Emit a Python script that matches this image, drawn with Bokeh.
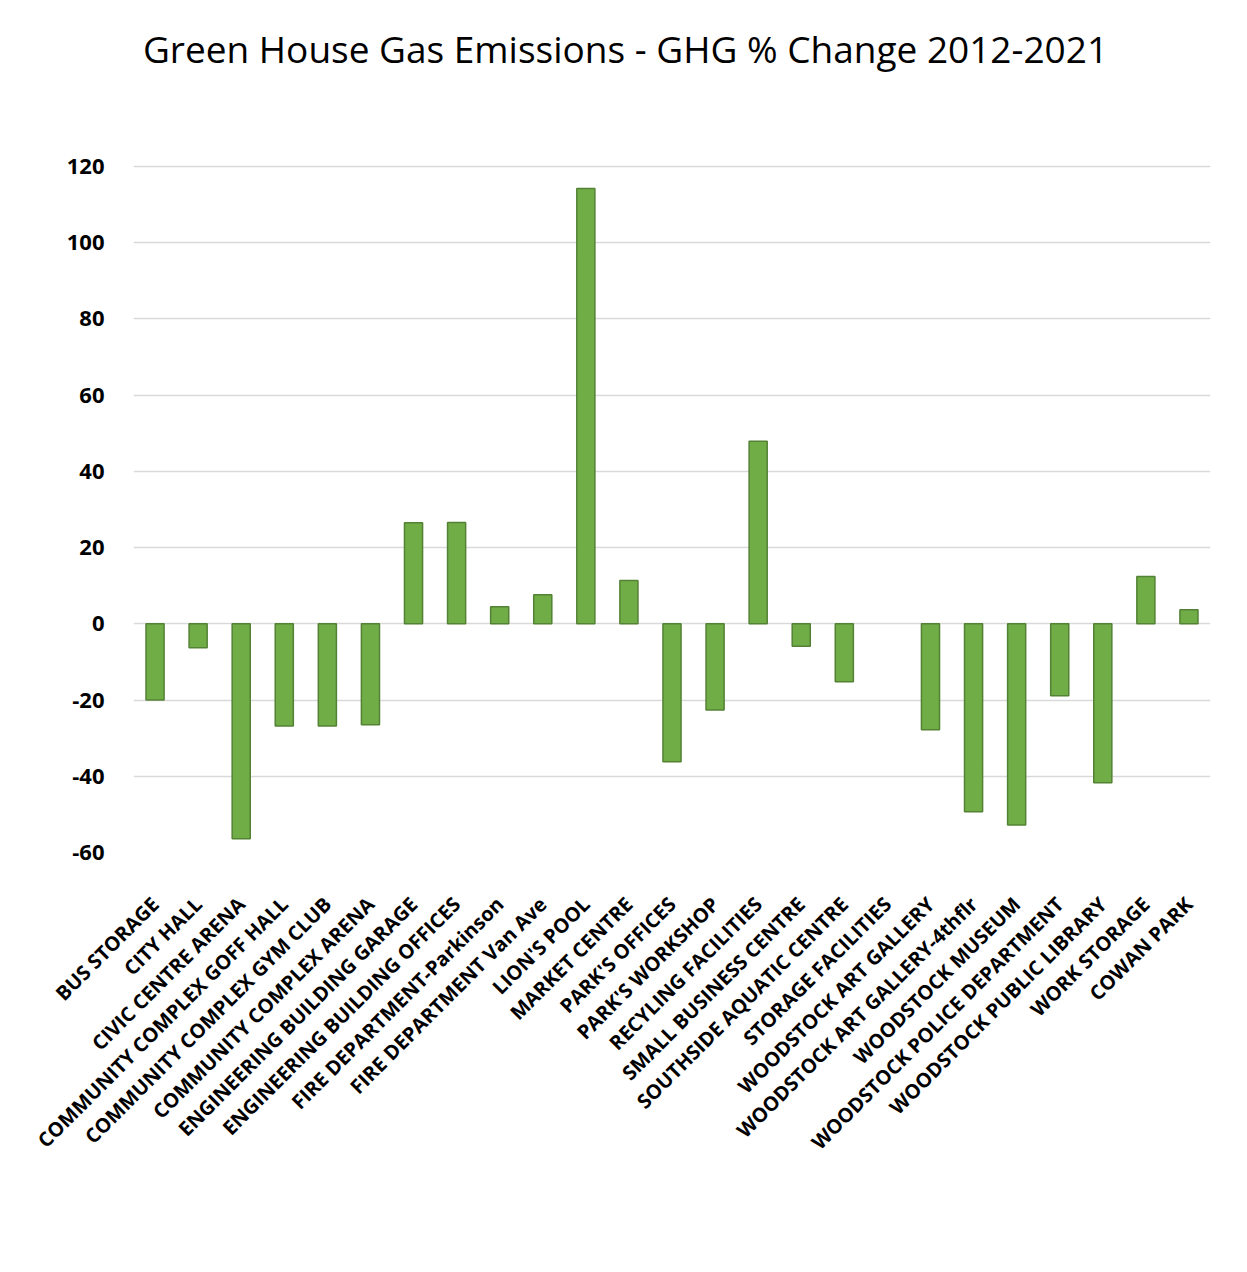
import math
from bokeh.plotting import figure
from bokeh.models import ColumnDataSource, Label, FactorRange, Range1d, FixedTicker
from bokeh.embed import file_html
from bokeh.resources import INLINE

categories = [
    "BUS STORAGE", "CITY HALL", "CIVIC CENTRE ARENA", "COMMUNITY COMPLEX GOFF HALL",
    "COMMUNITY COMPLEX GYM CLUB", "COMMUNITY COMPLEX ARENA", "ENGINEERING BUILDING GARAGE",
    "ENGINEERING BUILDING OFFICES", "FIRE DEPARTMENT-Parkinson", "FIRE DEPARTMENT Van Ave",
    "LION'S POOL", "MARKET CENTRE", "PARK'S OFFICES", "PARK'S WORKSHOP",
    "RECYLING FACILITIES", "SMALL BUSINESS CENTRE", "SOUTHSIDE AQUATIC CENTRE",
    "STORAGE FACILITIES", "WOODSTOCK ART GALLERY", "WOODSTOCK ART GALLERY-4thflr",
    "WOODSTOCK MUSEUM", "WOODSTOCK POLICE DEPARTMENT", "WOODSTOCK PUBLIC LIBRARY",
    "WORK STORAGE", "COWAN PARK",
]
# STORAGE FACILITIES has no bar in the chart (no value)
ghg_change = [
    -20.0, -6.3, -56.4, -26.8, -26.8, -26.5, 26.5, 26.6, 4.5, 7.6,
    114.2, 11.4, -36.2, -22.6, 47.9, -5.9, -15.2, float("nan"), -27.8, -49.3,
    -52.8, -18.9, -41.7, 12.4, 3.7,
]
y_ticks = [-60, -40, -20, 0, 20, 40, 60, 80, 100, 120]
title_text = "Green House Gas Emissions - GHG % Change 2012-2021"

# layout (pixels)
W, H = 1231, 1256
FRAME_L, FRAME_R, GRID_TOP, FRAME_B = 133, 1210, 166, 852
Y_MIN, Y_MAX = -60, 120
px_per_unit = (FRAME_B - GRID_TOP) / (Y_MAX - Y_MIN)
y_top = Y_MAX + GRID_TOP / px_per_unit  # frame extends to the top of the canvas
cat_w = (FRAME_R - FRAME_L) / len(categories)

source = ColumnDataSource(data=dict(cat=categories, val=ghg_change))

p = figure(
    width=W, height=H,
    x_range=FactorRange(factors=categories),
    y_range=Range1d(Y_MIN, y_top),
    output_backend="svg", toolbar_location=None,
    min_border_left=FRAME_L, min_border_right=W - FRAME_R,
    min_border_top=0, min_border_bottom=H - FRAME_B,
)
p.outline_line_color = None
p.background_fill_color = "white"
p.border_fill_color = "white"

p.vbar(x="cat", top="val", bottom=0, width=0.42, source=source,
       fill_color="#70AD47", line_color="#548235", line_width=1.5)

p.xgrid.grid_line_color = None
p.ygrid.grid_line_color = "#d9d9d9"
p.ygrid.grid_line_width = 1.5
p.yaxis.ticker = FixedTicker(ticks=y_ticks)
p.yaxis.major_label_overrides = {t: str(t) for t in y_ticks}
p.yaxis.axis_line_color = None
p.yaxis.major_tick_line_color = None
p.yaxis.minor_tick_line_color = None
p.yaxis.major_label_text_font = "Open Sans"
p.yaxis.major_label_text_font_style = "bold"
p.yaxis.major_label_text_font_size = "22px"
p.yaxis.major_label_text_color = "black"
p.yaxis.major_label_standoff = 23

p.xaxis.axis_line_color = None
p.xaxis.major_tick_line_color = None
p.xaxis.minor_tick_line_color = None
p.xaxis.major_label_orientation = math.pi / 4
p.xaxis.major_label_text_font = "Open Sans"
p.xaxis.major_label_text_font_style = "bold"
p.xaxis.major_label_text_font_size = "20px"
p.xaxis.major_label_text_color = "black"
p.xaxis.major_label_standoff = 42

title_x = (625 - FRAME_L) / cat_w
title_y = Y_MAX + (GRID_TOP - 48) / px_per_unit
title = Label(x=title_x, y=title_y, text=title_text,
              text_align="center", text_baseline="middle",
              text_font="Open Sans", text_font_size="37px", text_color="black")
p.add_layout(title)

open("out.html", "w").write(file_html(p, INLINE))
